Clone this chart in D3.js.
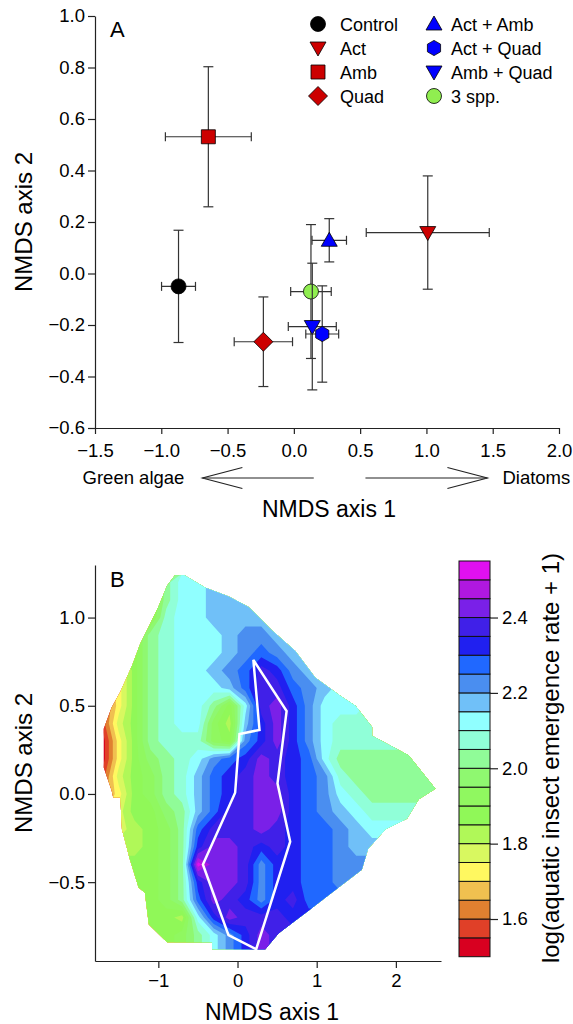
<!DOCTYPE html>
<html>
<head>
<meta charset="utf-8">
<script src="https://d3js.org/d3.v7.min.js"></script>
<style>
body { margin: 0; background: #fff; }
text { font-family: "Liberation Sans", Arial, Helvetica, sans-serif; fill: #000; }
</style>
</head>
<body>
<script>
// ---------- panel A : treatment centroids on the NMDS axes (mean +/- SE)
var treatments = ["Control", "Act", "Amb", "Quad", "Act + Amb", "Act + Quad", "Amb + Quad", "3 spp."];
var axis1Mean = [-0.87, 1.01, -0.645, -0.23, 0.267, 0.214, 0.139, 0.129];
var axis1SE   = [0.128, 0.464, 0.324, 0.22, 0.13, 0.124, 0.181, 0.153];
var axis2Mean = [-0.05, 0.159, 0.531, -0.265, 0.129, -0.235, -0.206, -0.07];
var axis2SE   = [0.218, 0.22, 0.272, 0.174, 0.084, 0.187, 0.246, 0.26];
var shapes = ["circle", "triDown", "square", "diamond", "triUp", "hexagon", "triDown", "circle"];
var fills  = ["#000000", "#cc0000", "#cc0000", "#cc0000", "#0000ff", "#0000ff", "#0000ff", "#90ee50"];
var drawOrder = [0, 1, 2, 3, 4, 7, 6, 5];

var ticksAx = [-1.5, -1, -0.5, 0, 0.5, 1, 1.5, 2];
var ticksAy = [-0.6, -0.4, -0.2, 0, 0.2, 0.4, 0.6, 0.8, 1.0];

// gradient arrows under the x axis (NMDS axis 1 units)
var arrows = [{from: 0.15, to: -0.69, label: "Green algae"}, {from: 0.54, to: 1.46, label: "Diatoms"}];

// ---------- panel B : emergence surface over NMDS space
var gridX = [-1.7, -1.5, -1.3, -1.1, -0.9, -0.7, -0.5, -0.3, -0.1, 0.1, 0.3, 0.5, 0.7, 0.9, 1.1, 1.3, 1.5, 1.7, 1.9, 2.1, 2.3, 2.5];
var gridY = [1.2, 1.1, 1.0, 0.9, 0.8, 0.7, 0.6, 0.5, 0.4, 0.3, 0.2, 0.1, 0.0, -0.1, -0.2, -0.3, -0.4, -0.5, -0.6, -0.7, -0.8, -0.9];
var breaks = [1.5, 1.55, 1.6, 1.65, 1.7, 1.75, 1.8, 1.85, 1.9, 1.95, 2.0, 2.05, 2.1, 2.15, 2.2, 2.25, 2.3, 2.35, 2.4, 2.45, 2.5, 2.55];
var bandColors = ["#d80020", "#e04028", "#e08030", "#f0c050", "#fff860", "#d8f860", "#b0f858", "#90f858",
  "#90f860", "#8ff870", "#90fc98", "#90ffd8", "#90ffff", "#70c0f8", "#4a8ef0", "#2068ff", "#2020f0",
  "#4020e8", "#7a20e8", "#b018e0", "#e010f0"];
// one letter per grid cell: a = band 1.50-1.55 ... u = band 2.50-2.55
var levelCodes = "abcdefghijklmnopqrstu";
var surfaceRows = [
  "hhhhkmmnnnnnnnnnnnnnnn",
  "hhhhkmmnnnnnnnnnnnnnnn",
  "hhhhlmmnnnnnnnnnnnnnnn",
  "hhhklmmmnoonnnnnnnnnnn",
  "hhhklmmmnoponnnnnnnnnn",
  "eehklmmnoprqonnnnnnnnn",
  "cehklmmmnprrponmmmmmmm",
  "behklmmkhmrsqommmlllll",
  "bfhklmmignqsqomlllllll",
  "aehklllihoqsqomlllllll",
  "aehjklmopqsrqpmkkkkkkk",
  "bfhiklnpqrsrqpolkkkkkk",
  "cehiklnpqrssqpomlkkkkk",
  "dfhhjknprrssqponmlllll",
  "ffghikprrrsrqpponmmmmm",
  "ggghikqssrqrqpponnnnnn",
  "hhhhikussroqqppooooooo",
  "hhhhikqssroqqppooooooo",
  "hhhhikpsrqoqrppppppppp",
  "hhhhhgmqsrrrqqqqqqqqqq",
  "hhhhhikmoqsrrrrrrrrrrr",
  "hhhhhikmoqsrrrrrrrrrrr"
];
// outline of the sampled region
var hull = [[-0.79, 1.24], [-0.67, 1.24], [-0.41, 1.17], [-0.11, 1.12], [0.14, 1.06], [0.43, 0.93], [0.73, 0.81],
  [0.98, 0.66], [1.32, 0.55], [1.49, 0.50], [1.70, 0.38], [1.70, 0.33], [2.16, 0.22], [2.50, 0.03], [2.29, -0.03],
  [2.14, -0.14], [1.87, -0.20], [1.65, -0.31], [1.57, -0.43], [1.19, -0.56], [0.90, -0.66], [0.52, -0.79],
  [0.35, -0.88], [-0.32, -0.88], [-0.32, -0.84], [-0.89, -0.84], [-1.12, -0.74], [-1.17, -0.56], [-1.25, -0.53],
  [-1.36, -0.37], [-1.46, -0.20], [-1.48, -0.02], [-1.57, -0.02], [-1.59, 0.02], [-1.69, 0.15], [-1.69, 0.37],
  [-1.59, 0.49], [-1.48, 0.58], [-1.33, 0.73], [-1.23, 0.85], [-1.12, 0.95], [-1.00, 1.06], [-0.89, 1.18]];
// hull of the 3 spp. replicates
var threeSpp = [[0.20, 0.76], [0.62, 0.47], [0.505, 0.06], [0.665, -0.27], [0.236, -0.88], [-0.114, -0.80],
  [-0.437, -0.40], [-0.03, 0.007], [0.025, 0.34], [0.278, 0.363]];

var ticksBx = [-1, 0, 1, 2];
var ticksBy = [-0.5, 0, 0.5, 1.0];
var ticksBar = [1.6, 1.8, 2.0, 2.2, 2.4];

var svg = d3.select("body").append("svg").attr("width", 573).attr("height", 1024);
var fmt1 = d3.format(".1f");

function styleAxis(g) {
  g.attr("font-size", 18.5).attr("font-family", null);
  g.selectAll("line, path").attr("stroke", "#222").attr("stroke-width", 1.2);
}

function markerPath(shape) {
  if (shape == "circle") return d3.symbol(d3.symbolCircle, Math.PI * 7.5 * 7.5)();
  if (shape == "square") return d3.symbol(d3.symbolSquare, 14 * 14)();
  if (shape == "diamond") return "M0,-9.5L9.5,0L0,9.5L-9.5,0Z";
  if (shape == "triUp") return "M0,-8L8,6L-8,6Z";
  if (shape == "triDown") return "M0,8L8,-6L-8,-6Z";
  // hexagon, pointy top
  return d3.line()(d3.range(6).map(function(k) {
    var a = (k * 60 - 90) * Math.PI / 180;
    return [7.6 * Math.cos(a), 7.6 * Math.sin(a)];
  })) + "Z";
}

// ================= panel A
var xA = d3.scaleLinear().domain([-1.5, 2]).range([95, 559]);
var yA = d3.scaleLinear().domain([-0.6, 1.0]).range([428, 16]);

svg.append("g").attr("transform", "translate(0,428)")
  .call(d3.axisBottom(xA).tickValues(ticksAx).tickFormat(fmt1).tickSize(6).tickSizeOuter(0).tickPadding(10))
  .call(styleAxis);
svg.append("g").attr("transform", "translate(95,0)")
  .call(d3.axisLeft(yA).tickValues(ticksAy).tickFormat(fmt1).tickSize(7).tickSizeOuter(0).tickPadding(3))
  .call(styleAxis);

svg.append("text").attr("x", 110).attr("y", 37).attr("font-size", 22).text("A");

var pts = svg.append("g");
drawOrder.forEach(function(i) {
  var cx = xA(axis1Mean[i]), cy = yA(axis2Mean[i]);
  var x0 = xA(axis1Mean[i] - axis1SE[i]), x1 = xA(axis1Mean[i] + axis1SE[i]);
  var y0 = yA(axis2Mean[i] - axis2SE[i]), y1 = yA(axis2Mean[i] + axis2SE[i]);
  var eb = pts.append("g").attr("stroke", "#333").attr("stroke-width", 1.2);
  eb.append("line").attr("x1", x0).attr("x2", x1).attr("y1", cy).attr("y2", cy);
  eb.append("line").attr("x1", x0).attr("x2", x0).attr("y1", cy - 4.5).attr("y2", cy + 4.5);
  eb.append("line").attr("x1", x1).attr("x2", x1).attr("y1", cy - 4.5).attr("y2", cy + 4.5);
  eb.append("line").attr("x1", cx).attr("x2", cx).attr("y1", y0).attr("y2", y1);
  eb.append("line").attr("x1", cx - 5).attr("x2", cx + 5).attr("y1", y0).attr("y2", y0);
  eb.append("line").attr("x1", cx - 5).attr("x2", cx + 5).attr("y1", y1).attr("y2", y1);
  pts.append("path").attr("d", markerPath(shapes[i]))
    .attr("transform", "translate(" + cx + "," + cy + ")")
    .attr("fill", fills[i]).attr("stroke", "#000").attr("stroke-width", 0.8);
});

// legend, two columns of four
var legend = svg.append("g");
treatments.forEach(function(t, i) {
  var col = Math.floor(i / 4), row = i % 4;
  var lx = col == 0 ? 318 : 434, tx = col == 0 ? 340 : 451, ly = 24 + row * 24;
  legend.append("path").attr("d", markerPath(shapes[i]))
    .attr("transform", "translate(" + lx + "," + ly + ")")
    .attr("fill", fills[i]).attr("stroke", "#000").attr("stroke-width", 0.8);
  legend.append("text").attr("x", tx).attr("y", ly + 6.5).attr("font-size", 18).text(t);
});

// gradient arrows
var arrowY = 478;
arrows.forEach(function(a) {
  var p0 = xA(a.from), p1 = xA(a.to), dir = p1 > p0 ? 1 : -1;
  var ag = svg.append("g").attr("stroke", "#222").attr("stroke-width", 1.1).attr("fill", "none");
  ag.append("line").attr("x1", p0).attr("x2", p1).attr("y1", arrowY).attr("y2", arrowY);
  ag.append("path").attr("d", "M" + (p1 - dir * 40) + "," + (arrowY - 10.5) + "L" + p1 + "," + arrowY + "L" + (p1 - dir * 40) + "," + (arrowY + 10.5));
  svg.append("text").attr("x", dir < 0 ? p1 - 18 : p1 + 15).attr("y", arrowY + 6)
    .attr("text-anchor", dir < 0 ? "end" : "start").attr("font-size", 18.5).text(a.label);
});

svg.append("text").attr("x", 329).attr("y", 517).attr("text-anchor", "middle").attr("font-size", 23).text("NMDS axis 1");
svg.append("text").attr("transform", "translate(31.5,222) rotate(-90)").attr("text-anchor", "middle").attr("font-size", 24).text("NMDS axis 2");

// ================= panel B
var xB = d3.scaleLinear().domain([-1.8, 2.57]).range([95, 441]);
var yB = d3.scaleLinear().domain([-0.947, 1.298]).range([961, 565]);

var nx = gridX.length, ny = gridY.length;
var values = [];
surfaceRows.forEach(function(row) {
  row = row.padEnd(nx, row[row.length - 1]).slice(0, nx);
  row.split("").forEach(function(c) {
    values.push(breaks[levelCodes.indexOf(c)] + 0.025);
  });
});
var bands = d3.contours().size([nx, ny]).thresholds(breaks.slice(0, -1))(values);

var stepX = gridX[1] - gridX[0], stepY = gridY[1] - gridY[0];
var gridProj = d3.geoTransform({
  point: function(c, r) {
    this.stream.point(xB(gridX[0] + (c - 0.5) * stepX), yB(gridY[0] + (r - 0.5) * stepY));
  }
});
var contourPath = d3.geoPath(gridProj);
var lineB = d3.line().x(function(d) { return xB(d[0]); }).y(function(d) { return yB(d[1]); });

svg.append("defs").append("clipPath").attr("id", "hullClip")
  .append("path").attr("d", lineB(hull) + "Z");

svg.append("g").attr("clip-path", "url(#hullClip)")
  .selectAll("path").data(bands).join("path")
  .attr("d", contourPath)
  .attr("fill", function(d, i) { return bandColors[i]; });

svg.append("path").attr("d", lineB(threeSpp) + "Z")
  .attr("fill", "none").attr("stroke", "#fff").attr("stroke-width", 2.5).attr("stroke-linejoin", "miter");

svg.append("g").attr("transform", "translate(0,961)")
  .call(d3.axisBottom(xB).tickValues(ticksBx).tickFormat(d3.format("d")).tickSize(7).tickSizeOuter(0).tickPadding(6))
  .call(styleAxis);
svg.append("g").attr("transform", "translate(95,0)")
  .call(d3.axisLeft(yB).tickValues(ticksBy).tickFormat(fmt1).tickSize(7).tickSizeOuter(0).tickPadding(3))
  .call(styleAxis);

svg.append("text").attr("x", 110).attr("y", 587).attr("font-size", 22).text("B");
svg.append("text").attr("x", 272).attr("y", 1020).attr("text-anchor", "middle").attr("font-size", 23).text("NMDS axis 1");
svg.append("text").attr("transform", "translate(31.5,763) rotate(-90)").attr("text-anchor", "middle").attr("font-size", 24).text("NMDS axis 2");

// colour key
var yC = d3.scaleLinear().domain([breaks[0], breaks[breaks.length - 1]]).range([956.7, 561]);
svg.append("g").selectAll("rect").data(bandColors).join("rect")
  .attr("x", 459).attr("width", 31)
  .attr("y", function(d, i) { return yC(breaks[i + 1]); })
  .attr("height", function(d, i) { return yC(breaks[i]) - yC(breaks[i + 1]); })
  .attr("fill", function(d) { return d; })
  .attr("stroke", "#111").attr("stroke-width", 1);
svg.append("g").attr("transform", "translate(490,0)")
  .call(d3.axisRight(yC).tickValues(ticksBar).tickFormat(fmt1).tickSize(8).tickSizeOuter(0).tickPadding(4))
  .call(styleAxis)
  .call(function(g) { g.select(".domain").remove(); });
svg.append("text").attr("transform", "translate(559,758) rotate(-90)").attr("text-anchor", "middle")
  .attr("font-size", 24).text("log(aquatic insect emergence rate + 1)");
</script>
</body>
</html>
